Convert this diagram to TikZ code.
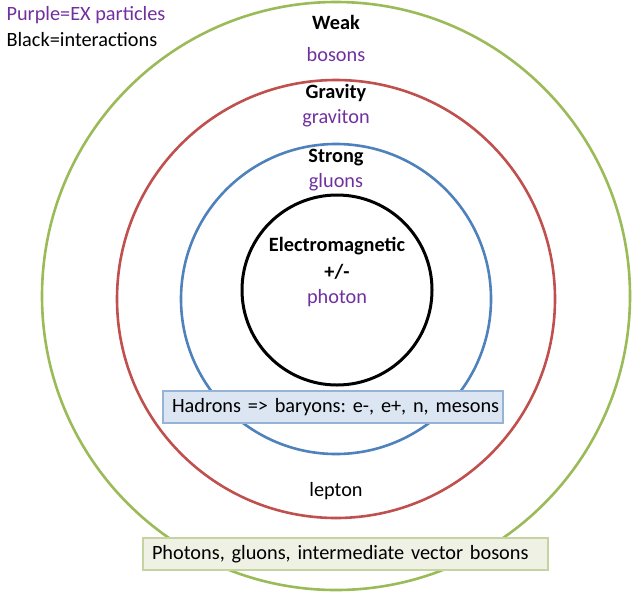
\documentclass[tikz,border=0pt]{standalone}
\usepackage{fontspec}
\setmainfont{Carlito}
\usepackage{xcolor}
\usetikzlibrary{positioning}
\definecolor{weakgreen}{HTML}{9BBB59}
\definecolor{gravityred}{HTML}{C0504D}
\definecolor{strongblue}{HTML}{4F81BD}
\definecolor{expurple}{HTML}{7030A0}
\definecolor{hadronfill}{HTML}{DCE6F2}
\definecolor{hadronline}{HTML}{95B3D7}
\definecolor{photonfill}{HTML}{EEF1E4}
\definecolor{photonline}{HTML}{C4D3A0}
\newcommand{\labelsize}{\fontsize{20.3}{24}\selectfont\frenchspacing}

\tikzset{
    ring/.style={circle, draw=#1, line width=2.6pt, inner sep=0pt},
    plain/.style={font=\labelsize},
    head/.style={font=\labelsize\bfseries},
    particle/.style={font=\labelsize, text=expurple},
    infobox/.style={rectangle, font=\labelsize, line width=1.2pt, inner xsep=9pt, inner ysep=0pt,
        minimum height=32pt, align=left}
}

\begin{document}
\begin{tikzpicture}[x=1pt, y=-1pt]
        \useasboundingbox (0,0) rectangle (636,600);

        % Rings
        \node[ring=weakgreen, minimum size=588pt] (weak) at (336,296) {};
        \node[ring=gravityred, minimum size=438pt] (gravity) at (336,299) {};
        \node[ring=strongblue, minimum size=310pt] (strong) at (336,299) {};
        \node[ring=black, line width=3pt, minimum size=190pt] (em) at (337,290) {};

        % Legend
        \node[anchor=west, particle] (legendex) at (3,15) {Purple=EX particles};
        \node[anchor=west, plain] (legendbk) at (3,40) {Black=interactions};

        % Weak
        \node[head] (weaklbl) at (336,22) {Weak};
        \node[particle] (bosons) at (336,55) {bosons};

        % Gravity
        \node[head] (gravitylbl) at (336,93) {Gravity};
        \node[particle] (graviton) at (336,118) {graviton};

        % Strong
        \node[head] (stronglbl) at (336,158) {Strong};
        \node[particle] (gluons) at (336,182) {gluons};

        % Electromagnetic
        \node[head] (emlbl) at (337,246) {Electromagnetic};
        \node[head] (charge) at (337,272) {+/-};
        \node[particle] (photon) at (337,298) {photon};

        % Boxes and lepton
        \node[infobox, fill=hadronfill, draw=hadronline, text width=322pt] (hadrons) at (333,407)
            {\mbox{Hadrons => baryons: e-, e+, n, mesons}};
        \node[plain] (lepton) at (336,491) {lepton};
        \node[infobox, fill=photonfill, draw=photonline, text width=387pt] (carriers) at (345.5,554)
            {\mbox{Photons, gluons, intermediate vector bosons}};
\end{tikzpicture}
\end{document}
